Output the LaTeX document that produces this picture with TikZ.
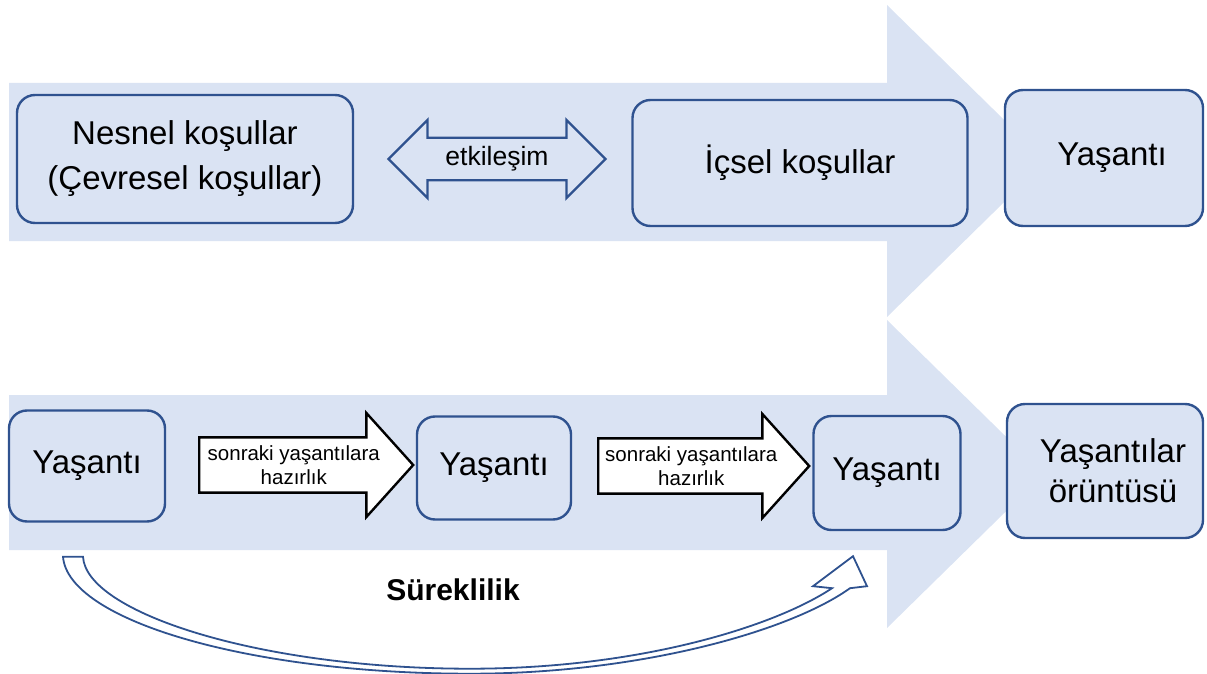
\documentclass[tikz,border=0pt]{standalone}
\usepackage{fontspec}
\setmainfont{Liberation Sans}
\usepackage{xcolor}
\definecolor{BandBlue}{RGB}{218,227,243}
\definecolor{EdgeBlue}{RGB}{47,82,143}
\usepackage{tikz}
\usetikzlibrary{
  shapes, shapes.arrows,
  arrows.meta,
  positioning, calc
}
\tikzset{
  % Rounded experience box
  exbox/.style={
    rectangle, rounded corners=18pt,
    draw=EdgeBlue, line width=2.4pt,
    fill=BandBlue,
    align=center,
    font=\fontsize{33}{40}\selectfont,
    inner sep=0pt
  },
  % Black outlined block arrow
  prep arrow/.style={
    single arrow, draw=black, line width=2.4pt, fill=white,
    single arrow head extend=20pt, single arrow tip angle=96,
    minimum height=214pt, minimum width=104pt, inner sep=2pt,
    align=center, font=\fontsize{20.5}{24}\selectfont
  },
  % Two-headed link arrow
  link arrow/.style={
    double arrow, draw=EdgeBlue, line width=2.4pt, fill=BandBlue,
    double arrow head extend=13pt, double arrow tip angle=90,
    minimum height=217pt, minimum width=78pt, inner sep=2pt,
    font=\fontsize{26.5}{30}\selectfont
  },
  % Hollow curved arrow
  hollow/.style={draw=EdgeBlue, fill=white, line width=1.8pt, line join=miter},
}

\begin{document}
\begin{tikzpicture}[x=1pt, y=-1pt]
  \useasboundingbox (0,0) rectangle (1207,674);

  % Flow bands
  \fill[BandBlue] (9,83) -- (887,83) -- (887,5) -- (1046,161) -- (887,317)
    -- (887,241) -- (9,241) -- cycle;
  \fill[BandBlue] (9,395) -- (887,395) -- (887,320) -- (1044,474) -- (887,628)
    -- (887,550) -- (9,550) -- cycle;

  % Top row
  \node[exbox, minimum width=336pt, minimum height=128pt,
    font=\fontsize{33}{45}\selectfont] (nesnel) at (185,159)
    {Nesnel koşullar\\(Çevresel koşullar)};
  \node[link arrow] (etkilesim) at (497,159) {etkileşim};
  \node[exbox, minimum width=335pt, minimum height=126pt] (icsel) at (800,163)
    {İçsel koşullar};
  \node[exbox, minimum width=198pt, minimum height=136pt] (yasanti) at (1104,158)
    {\hspace*{16pt}Yaşantı};

  % Bottom row
  \node[exbox, minimum width=156pt, minimum height=111pt] (yas1) at (87,466) {Yaşantı};
  \node[prep arrow, anchor=tail] (hazir1) at (198,465) {sonraki yaşantılara\\hazırlık};
  \node[exbox, minimum width=154pt, minimum height=103pt] (yas2) at (494,468) {Yaşantı};
  \node[prep arrow, anchor=tail, minimum height=211pt] (hazir2) at (597,466)
    {sonraki yaşantılara\\hazırlık};
  \node[exbox, minimum width=147pt, minimum height=114pt] (yas3) at (887,473) {Yaşantı};
  \node[exbox, minimum width=196pt, minimum height=134pt] (oruntu) at (1105,471)
    {\hspace*{16pt}Yaşantılar\\\hspace*{16pt}örüntüsü};

  % Continuity arrow (tapering hollow band)
  \coordinate (sbas) at ($(yas1.south)+(-14,34)$);
  \coordinate (sucu) at ($(yas3.south)+(-34,25)$);
  \draw[hollow]
    ($(sbas)+(-10,0)$) -- ($(sbas)+(10,0)$)
    .. controls ($(sbas)+(13,56)$) and ($(sbas)+(187,112)$) .. ($(sbas)+(397,112)$)
    .. controls ($(sbas)+(567,112)$) and ($(sucu)+(-78,70)$) .. ($(sucu)+(-21,32)$)
    -- ($(sucu)+(-40,30)$) -- (sucu) -- ($(sucu)+(14,30)$) -- ($(sucu)+(-3,32)$)
    .. controls ($(sucu)+(-63,75)$) and ($(sbas)+(567,117)$) .. ($(sbas)+(397,117)$)
    .. controls ($(sbas)+(177,117)$) and ($(sbas)+(-5,64)$) .. ($(sbas)+(-10,0)$)
    -- cycle;
  \node[font=\bfseries\fontsize{30}{34}\selectfont] (sureklilik) at (453,590) {Süreklilik};
\end{tikzpicture}
\end{document}
